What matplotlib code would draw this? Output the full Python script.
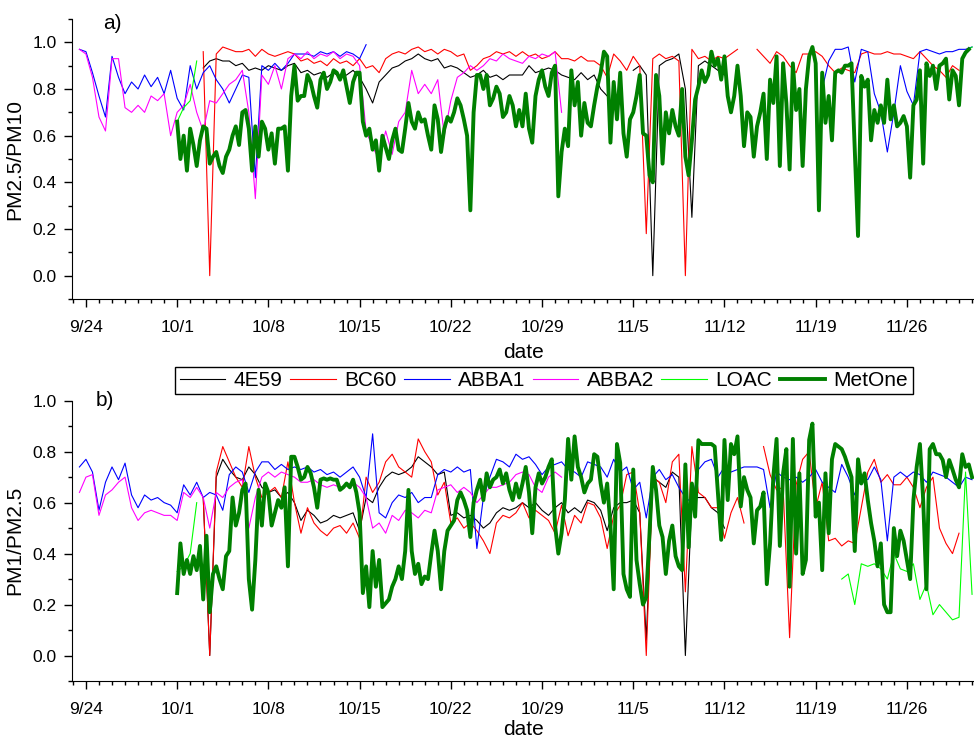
import numpy as np
import matplotlib.pyplot as plt
from matplotlib.ticker import MultipleLocator

plt.rcParams['font.family'] = ['Liberation Sans', 'DejaVu Sans']

# days counted from 9/24 00:00
week_labels = ['9/24', '10/1', '10/8', '10/15', '10/22', '10/29', '11/5', '11/12', '11/19', '11/26']

# ---------------- panel a: PM2.5/PM10 (half-day samples unless noted) ----------------
e4_a1 = [0.89, 0.92, 0.93, 0.92, 0.92, 0.90, 0.91, 0.88, 0.89, 0.88, 0.90, 0.89, 0.88, 0.90, 0.91,
         0.87, 0.88, 0.86, 0.87, 0.85, 0.87, 0.85, 0.86, 0.88, 0.85, 0.80, 0.74, 0.83, 0.86, 0.89,
         0.90, 0.92, 0.93, 0.95, 0.93, 0.92, 0.93, 0.89, 0.90, 0.89, 0.87, 0.85, 0.86, 0.88, 0.85,
         0.86, 0.84, 0.86, 0.86, 0.86, 0.90, 0.87, 0.88, 0.89, 0.88, 0.86, 0.85, 0.84, 0.87, 0.84,
         0.86, 0.80, 0.77]
e4_a2 = [0.88, 0.90, 0.86, 0.0, 0.90, 0.92, 0.93, 0.95, 0.80, 0.25, 0.90, 0.92, 0.90, 0.88, 0.86]

bc_a1 = [0.96, 0.0, 0.95, 0.98, 0.97, 0.96, 0.96, 0.97, 0.94, 0.97, 0.95, 0.94, 0.95, 0.96, 0.95,
         0.92, 0.93, 0.91, 0.92, 0.90, 0.93, 0.91, 0.92, 0.90, 0.93, 0.89, 0.90, 0.87, 0.93, 0.95,
         0.96, 0.95, 0.97, 0.98, 0.96, 0.97, 0.95, 0.97, 0.96, 0.94, 0.95, 0.88, 0.90, 0.93, 0.94,
         0.96, 0.95, 0.96, 0.94, 0.96, 0.94, 0.95, 0.93, 0.94, 0.96, 0.93, 0.93, 0.92, 0.94, 0.92,
         0.92, 0.90, 0.85, 0.95, 0.92, 0.88, 0.94, 0.90, 0.18, 0.93, 0.95, 0.93, 0.94, 0.92, 0.0,
         0.97, 0.93, 0.94, 0.92, 0.94, 0.93, 0.95, 0.97]
bc_a2 = [0.97, 0.94, 0.91, 0.96, 0.94, 0.90, 0.87, 0.95, 0.95, 0.96, 0.94, 0.90, 0.87, 0.89, 0.88,
         0.87, 0.95, 0.96, 0.95, 0.95, 0.96, 0.95, 0.95, 0.94, 0.93, 0.96, 0.93, 0.90, 0.88, 0.85,
         0.90, 0.88]

ab1_a1 = [0.97, 0.96, 0.87, 0.77, 0.68, 0.94, 0.85, 0.78, 0.83, 0.80, 0.86, 0.81, 0.85, 0.78, 0.88,
          0.76, 0.71, 0.90, 0.80, 0.87, 0.90, 0.84, 0.80, 0.74, 0.80, 0.86, 0.85, 0.42, 0.90, 0.88,
          0.91, 0.88, 0.91, 0.95, 0.95, 0.95, 0.94, 0.96, 0.95, 0.96, 0.94, 0.96, 0.95, 0.93, 0.99]
ab1_a2 = [0.80, 0.92, 0.97, 0.97, 0.98, 0.83, 0.97, 0.96, 0.78, 0.70, 0.53, 0.70, 0.90, 0.79, 0.73,
          0.96, 0.97, 0.96, 0.95, 0.96, 0.96, 0.97, 0.97, 0.98]

ab2_a = [0.97, 0.95, 0.85, 0.68, 0.62, 0.93, 0.93, 0.72, 0.70, 0.73, 0.70, 0.77, 0.75, 0.78, 0.60,
         0.70, 0.73, 0.82, 0.70, 0.62, 0.75, 0.74, 0.78, 0.82, 0.84, 0.88, 0.70, 0.33, 0.86, 0.82,
         0.90, 0.80, 0.93, 0.95, 0.93, 0.96, 0.93, 0.95, 0.94, 0.96, 0.93, 0.95, 0.94, 0.90, 0.62,
         0.55, 0.50, 0.62, 0.52, 0.66, 0.70, 0.88, 0.78, 0.82, 0.78, 0.84, 0.60, 0.75, 0.85, 0.87,
         0.90, 0.88, 0.90, 0.93, 0.92, 0.95, 0.93, 0.92, 0.91, 0.94, 0.93, 0.95, 0.94, 0.96, 0.70]

loac_a1 = [0.66, 0.72, 0.75, 0.92]
loac_a2 = [0.96, 0.98]

# quarter-day samples from 10/1
metone_a = [0.66, 0.50, 0.60, 0.45, 0.63, 0.56, 0.47, 0.58, 0.64, 0.63, 0.48, 0.51, 0.53, 0.47, 0.44,
            0.51, 0.54, 0.60, 0.64, 0.56, 0.70, 0.71, 0.63, 0.45, 0.64, 0.51, 0.66, 0.63, 0.54, 0.61,
            0.48, 0.63, 0.63, 0.64, 0.45, 0.77, 0.90, 0.75, 0.77,
            0.77, 0.86, 0.83, 0.77, 0.72, 0.84, 0.87, 0.80, 0.83, 0.88, 0.87, 0.84, 0.88, 0.81, 0.74,
            0.83, 0.87, 0.87, 0.66, 0.60, 0.63, 0.54, 0.58, 0.45, 0.60, 0.55, 0.50, 0.58, 0.63, 0.54,
            0.53, 0.63, 0.74, 0.66, 0.63, 0.70, 0.66, 0.67, 0.60, 0.54, 0.73, 0.67, 0.53, 0.63, 0.68,
            0.66, 0.70, 0.76, 0.73, 0.67, 0.60, 0.28, 0.70, 0.86, 0.86, 0.80, 0.86, 0.73, 0.76, 0.81,
            0.78, 0.68, 0.70, 0.77, 0.73, 0.64,
            0.71, 0.64, 0.78, 0.63, 0.57, 0.77, 0.84, 0.88, 0.81, 0.77, 0.87, 0.90, 0.34, 0.53, 0.63,
            0.555, 0.88, 0.73, 0.83, 0.60, 0.74, 0.655, 0.64, 0.73, 0.81, 0.87, 0.96, 0.94, 0.57, 0.83,
            0.67, 0.87, 0.61, 0.51, 0.67, 0.70, 0.77, 0.86, 0.61, 0.60, 0.43, 0.40, 0.86, 0.77, 0.48,
            0.70, 0.61, 0.71, 0.64, 0.60, 0.80, 0.51, 0.43, 0.58, 0.755, 0.81, 0.88, 0.83, 0.86, 0.96,
            0.90, 0.93, 0.84, 0.94, 0.77, 0.70, 0.77, 0.90, 0.77, 0.555, 0.70,
            0.68, 0.51, 0.64, 0.70, 0.78, 0.50, 0.84, 0.74, 0.94, 0.47, 0.91, 0.74, 0.455, 0.91, 0.71,
            0.80, 0.47, 0.80, 0.94, 0.98, 0.91, 0.28, 0.87, 0.655, 0.77, 0.58, 0.87, 0.88, 0.87, 0.90,
            0.90, 0.91, 0.54, 0.17, 0.856, 0.81, 0.84, 0.58, 0.71, 0.655, 0.73, 0.655, 0.84, 0.67, 0.73,
            0.64, 0.655, 0.684, 0.64, 0.42, 0.73, 0.755, 0.88, 0.48, 0.91, 0.856, 0.90, 0.80, 0.90, 0.91,
            0.93, 0.755, 0.88, 0.856, 0.73, 0.93, 0.956, 0.97]

# ---------------- panel b: PM1/PM2.5 ----------------
e4_b = [0.62, 0.0, 0.70, 0.77, 0.73, 0.70, 0.69, 0.74, 0.71, 0.66, 0.64, 0.65, 0.62, 0.64, 0.60,
        0.53, 0.57, 0.55, 0.52, 0.53, 0.55, 0.54, 0.55, 0.56, 0.49, 0.62, 0.60, 0.66, 0.70, 0.72,
        0.71, 0.72, 0.74, 0.78, 0.76, 0.74, 0.71, 0.72, 0.55, 0.56, 0.54, 0.55, 0.53, 0.50, 0.52,
        0.56, 0.58, 0.57, 0.58, 0.60, 0.58, 0.60, 0.57, 0.55, 0.58, 0.60, 0.56, 0.58, 0.56, 0.61,
        0.60, 0.57, 0.49, 0.58, 0.60, 0.60, 0.61, 0.56, 0.06, 0.70, 0.68, 0.66, 0.72, 0.70, 0.0,
        0.62, 0.62, 0.62, 0.58, 0.56, 0.50]

bc_b1 = [0.62, 0.0, 0.72, 0.82, 0.76, 0.70, 0.66, 0.82, 0.70, 0.62, 0.64, 0.66, 0.62, 0.76, 0.60,
         0.48, 0.58, 0.52, 0.49, 0.47, 0.50, 0.51, 0.48, 0.52, 0.46, 0.70, 0.64, 0.68, 0.76, 0.79,
         0.74, 0.72, 0.70, 0.85, 0.80, 0.76, 0.63, 0.68, 0.52, 0.54, 0.50, 0.52, 0.49, 0.45, 0.40,
         0.52, 0.55, 0.54, 0.56, 0.60, 0.54, 0.57, 0.55, 0.53, 0.48, 0.59, 0.47, 0.55, 0.52, 0.60,
         0.59, 0.54, 0.42, 0.55, 0.59, 0.71, 0.72, 0.56, 0.0, 0.70, 0.68, 0.60, 0.76, 0.79, 0.25,
         0.82, 0.64, 0.62, 0.58, 0.58, 0.46, 0.56, 0.62, 0.52]
bc_b2 = [0.82, 0.71, 0.65, 0.66, 0.07, 0.67, 0.77, 0.80, 0.58, 0.68, 0.45, 0.46, 0.43, 0.45, 0.44,
         0.58, 0.72, 0.77, 0.68, 0.71, 0.67, 0.67, 0.70, 0.66, 0.58, 0.66, 0.70, 0.50, 0.44, 0.40,
         0.48]

ab1_b = [0.74, 0.77, 0.72, 0.57, 0.68, 0.74, 0.69, 0.755, 0.63, 0.58, 0.63, 0.61, 0.62, 0.60, 0.59,
         0.56, 0.67, 0.63, 0.68, 0.62, 0.64, 0.63, 0.57, 0.71, 0.74, 0.72, 0.64, 0.72, 0.76, 0.76,
         0.73, 0.75, 0.73, 0.74, 0.73, 0.74, 0.72, 0.73, 0.71, 0.72, 0.70, 0.72, 0.74, 0.70, 0.62,
         0.87, 0.56, 0.54, 0.60, 0.63, 0.62, 0.64, 0.60, 0.62, 0.62, 0.71, 0.73, 0.72, 0.74, 0.72,
         0.73, 0.42, 0.62, 0.70, 0.77, 0.76, 0.74, 0.79, 0.77, 0.78, 0.75, 0.71, 0.74, 0.75, 0.76,
         0.73, 0.72, 0.70, 0.76, 0.75, 0.74, 0.70, 0.77, 0.72, 0.74, 0.65, 0.68, 0.54, 0.70, 0.73,
         0.69, 0.71, 0.66, 0.62, 0.60, 0.73, 0.76, 0.77, 0.70, 0.74, 0.72, 0.73, 0.74, 0.74, 0.74,
         0.73, 0.58, 0.72, 0.70, 0.69, 0.70, 0.68, 0.70, 0.73, 0.68, 0.66, 0.64, 0.75, 0.70, 0.63,
         0.70, 0.69, 0.74, 0.69, 0.45, 0.70, 0.72, 0.70, 0.72, 0.71, 0.68, 0.72, 0.71, 0.70, 0.68,
         0.66, 0.70, 0.69]

ab2_b = [0.64, 0.70, 0.71, 0.55, 0.63, 0.65, 0.68, 0.70, 0.58, 0.53, 0.56, 0.57, 0.56, 0.55, 0.55,
         0.53, 0.64, 0.62, 0.66, 0.62, 0.50, 0.64, 0.62, 0.66, 0.68, 0.69, 0.50, 0.62, 0.70, 0.72,
         0.70, 0.72, 0.71, 0.70, 0.68, 0.68, 0.69, 0.67, 0.66, 0.67, 0.66, 0.67, 0.68, 0.66, 0.62,
         0.50, 0.52, 0.48, 0.55, 0.53, 0.57, 0.56, 0.54, 0.57, 0.56, 0.65, 0.66, 0.67, 0.64, 0.66,
         0.64, 0.60, 0.63, 0.66, 0.66, 0.67, 0.68, 0.71, 0.72, 0.71, 0.66, 0.64, 0.70, 0.72, 0.70]

loac_b1 = [0.33, 0.35, 0.40, 0.60]
loac_b2 = [0.30, 0.32, 0.20, 0.36, 0.35, 0.36, 0.34, 0.30, 0.40, 0.34, 0.33, 0.36, 0.22, 0.28, 0.16,
           0.20, 0.17, 0.14, 0.15, 0.72, 0.24]

metone_b = [0.245, 0.44, 0.32, 0.375, 0.32, 0.39, 0.335, 0.43, 0.22, 0.47, 0.17, 0.32, 0.35, 0.30, 0.26,
            0.39, 0.41, 0.62, 0.51, 0.56, 0.65, 0.675, 0.30, 0.18, 0.375, 0.65, 0.51, 0.675, 0.64, 0.51,
            0.56, 0.61, 0.58, 0.66, 0.35, 0.78, 0.78, 0.74, 0.69,
            0.70, 0.74, 0.715, 0.66, 0.58, 0.69, 0.695, 0.69, 0.695, 0.69, 0.69, 0.65, 0.66, 0.675, 0.66,
            0.69, 0.64, 0.56, 0.245, 0.35, 0.19, 0.41, 0.27, 0.375, 0.19, 0.205, 0.22, 0.27, 0.30, 0.35,
            0.30, 0.41, 0.65, 0.41, 0.32, 0.36, 0.28, 0.31, 0.30, 0.40, 0.49, 0.41, 0.26, 0.41, 0.49,
            0.51, 0.53, 0.61, 0.64, 0.61, 0.57, 0.465, 0.60, 0.65, 0.69, 0.61, 0.715, 0.66, 0.69, 0.70,
            0.73, 0.675, 0.715, 0.65, 0.61, 0.675,
            0.62, 0.675, 0.74, 0.64, 0.48, 0.66, 0.715, 0.675, 0.70, 0.74, 0.77, 0.51, 0.40, 0.48, 0.61,
            0.85, 0.69, 0.86, 0.74, 0.70, 0.64, 0.675, 0.69, 0.79, 0.78, 0.675, 0.60, 0.675, 0.51, 0.26,
            0.83, 0.755, 0.32, 0.26, 0.23, 0.73, 0.375, 0.28, 0.20, 0.23, 0.48, 0.74, 0.65, 0.51, 0.465,
            0.32, 0.45, 0.51, 0.39, 0.35, 0.335, 0.75, 0.425, 0.675, 0.545, 0.845, 0.83, 0.83, 0.83, 0.83,
            0.82, 0.637, 0.454, 0.846, 0.61, 0.83, 0.79, 0.86, 0.585, 0.70, 0.65,
            0.62, 0.44, 0.57, 0.585, 0.64, 0.28, 0.44, 0.70, 0.85, 0.43, 0.715, 0.81, 0.27, 0.85, 0.40,
            0.715, 0.32, 0.375, 0.846, 0.91, 0.545, 0.60, 0.335, 0.715, 0.48, 0.77, 0.83, 0.82, 0.81, 0.78,
            0.74, 0.70, 0.41, 0.77, 0.675, 0.715, 0.61, 0.52, 0.45, 0.35, 0.44, 0.20, 0.17, 0.17, 0.50,
            0.39, 0.49, 0.45, 0.375, 0.30, 0.61, 0.74, 0.83, 0.61, 0.26, 0.81, 0.83, 0.79, 0.79, 0.767,
            0.70, 0.767, 0.73, 0.69, 0.66, 0.79, 0.74, 0.75, 0.70]

# name, colour, width
styles = [('4E59', 'black', 0.8), ('BC60', 'red', 0.8), ('ABBA1', 'blue', 0.8),
          ('ABBA2', 'magenta', 0.8), ('LOAC', '#00ff00', 0.8), ('MetOne', 'green', 2.8)]

# (start day, values, step)
panel_a = {
    '4E59': [(9.0, e4_a1, 0.5), (42.0, e4_a2, 0.5)],
    'BC60': [(9.0, bc_a1, 0.5), (51.5, bc_a2, 0.5)],
    'ABBA1': [(-0.5, ab1_a1, 0.5), (56.5, ab1_a2, 0.5)],
    'ABBA2': [(-0.5, ab2_a, 0.5)],
    'LOAC': [(7.0, loac_a1, 0.5), (67.5, loac_a2, 0.5)],
    'MetOne': [(7.0, metone_a, 0.25)],
}
panel_b = {
    '4E59': [(9.0, e4_b, 0.5)],
    'BC60': [(9.0, bc_b1, 0.5), (52.0, bc_b2, 0.5)],
    'ABBA1': [(-0.5, ab1_b, 0.5)],
    'ABBA2': [(-0.5, ab2_b, 0.5)],
    'LOAC': [(7.0, loac_b1, 0.5), (58.0, loac_b2, 0.5)],
    'MetOne': [(7.0, metone_b, 0.25)],
}

fig = plt.figure(figsize=(9.74, 7.44), dpi=100)
ax_a = fig.add_axes([72 / 974, 1 - 299 / 744, 902 / 974, 280 / 744])
ax_b = fig.add_axes([72 / 974, 1 - 681 / 744, 902 / 974, 280.3 / 744])


def draw(ax, data):
    handles = []
    for name, color, lw in styles:
        for k, (start, vals, step) in enumerate(data[name]):
            t = start + step * np.arange(len(vals))
            line, = ax.plot(t, vals, color=color, lw=lw, label=name if k == 0 else None)
            if k == 0:
                handles.append(line)
    return handles


draw(ax_a, panel_a)
handles = draw(ax_b, panel_b)

for ax, ylab, ylim, xpad in [(ax_a, 'PM2.5/PM10', (-0.1, 1.1), 6), (ax_b, 'PM1/PM2.5', (-0.1, 1.0), 2)]:
    ax.set_xlim(-1.07, 68.15)
    ax.set_ylim(*ylim)
    ax.spines['top'].set_visible(False)
    ax.spines['right'].set_visible(False)
    ax.set_xticks(np.arange(len(week_labels)) * 7)
    ax.set_xticklabels(week_labels)
    ax.xaxis.set_minor_locator(MultipleLocator(1))
    ax.set_yticks(np.arange(0, 1.01, 0.2))
    ax.yaxis.set_minor_locator(MultipleLocator(0.1))
    ax.tick_params(which='major', direction='out', length=6, width=1, labelsize=12.5)
    ax.tick_params(which='minor', direction='out', length=3, width=1)
    ax.tick_params(axis='x', which='major', pad=9)
    ax.tick_params(axis='y', which='major', pad=5)
    ax.set_xlabel('date', fontsize=15, labelpad=xpad)
    ax.set_ylabel(ylab, fontsize=15, labelpad=6)

ax_a.text(0.035, 0.985, 'a)', transform=ax_a.transAxes, fontsize=15, va='center')
ax_b.text(0.026, 1.0, 'b)', transform=ax_b.transAxes, fontsize=15, va='center')

fig.legend(handles=handles, loc='center', bbox_to_anchor=(544 / 974, 1 - 380.5 / 744), ncol=6,
           fontsize=15, frameon=True, fancybox=False, edgecolor='black', framealpha=1,
           handlelength=2.2, handletextpad=0.4, columnspacing=0.35, borderpad=0.2)

fig.savefig('out.png', dpi=100)
